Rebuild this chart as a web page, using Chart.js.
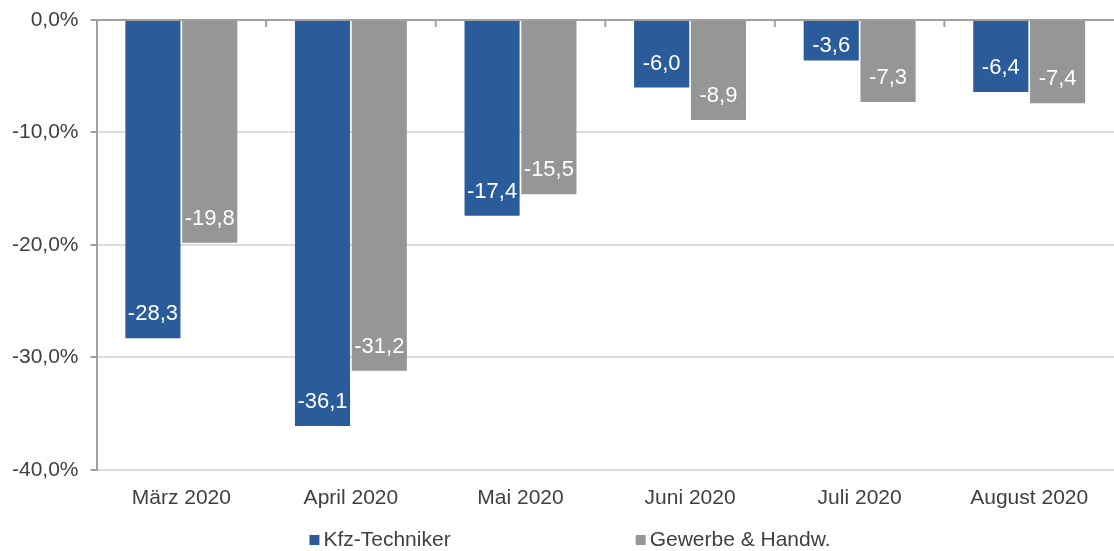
<!DOCTYPE html>
<html lang="de">
<head>
    <meta charset="UTF-8">
    <title>Kfz-Techniker vs. Gewerbe & Handwerk</title>
    <script src="https://cdn.jsdelivr.net/npm/chart.js"></script>
    <style>
        html, body { margin: 0; padding: 0; background: #fff; }
        #wrap { width: 1114px; height: 551px; }
    </style>
</head>
<body>
    <div id="wrap"><canvas id="myChart" width="1114" height="551"></canvas></div>
    <script>
        // data
        const categories = ['März 2020', 'April 2020', 'Mai 2020', 'Juni 2020', 'Juli 2020', 'August 2020'];
        const kfzValues = [-28.3, -36.1, -17.4, -6.0, -3.6, -6.4];
        const gewerbeValues = [-19.8, -31.2, -15.5, -8.9, -7.3, -7.4];
        const seriesNames = ['Kfz-Techniker', 'Gewerbe & Handw.'];
        const yTickValues = [0, -10, -20, -30, -40];
        const yTickLabels = ['0,0%', '-10,0%', '-20,0%', '-30,0%', '-40,0%'];

        const FONT = '"Liberation Sans", Arial, sans-serif';
        const TEXT = '#404040';
        const AXIS = '#a0a0a0';

        const fmt = v => v.toFixed(1).replace('.', ',');

        // value labels inside the bar end
        const barLabels = {
            id: 'barLabels',
            afterDatasetsDraw(chart) {
                const ctx = chart.ctx;
                ctx.save();
                ctx.font = '22px ' + FONT;
                ctx.fillStyle = '#ffffff';
                ctx.textAlign = 'center';
                ctx.textBaseline = 'middle';
                chart.data.datasets.forEach((ds, di) => {
                    chart.getDatasetMeta(di).data.forEach((bar, i) => {
                        const y = Math.max(bar.y - 24, bar.base + 25);
                        ctx.fillText(fmt(ds.data[i]), bar.x, y);
                    });
                });
                ctx.restore();
            }
        };

        // x axis line sits at 0 (top), with small ticks between the groups
        const topAxis = {
            id: 'topAxis',
            afterDatasetsDraw(chart) {
                const ctx = chart.ctx;
                const x = chart.scales.x, y = chart.scales.y;
                const y0 = y.getPixelForValue(0);
                ctx.save();
                ctx.strokeStyle = AXIS;
                ctx.lineWidth = 2;
                ctx.beginPath();
                ctx.moveTo(chart.chartArea.left, y0);
                ctx.lineTo(chart.chartArea.right, y0);
                for (let i = 1; i < categories.length; i++) {
                    const bx = (x.getPixelForValue(i - 1) + x.getPixelForValue(i)) / 2;
                    ctx.moveTo(bx, y0);
                    ctx.lineTo(bx, y0 + 7);
                }
                ctx.stroke();
                ctx.restore();
            }
        };

        // legend drawn by hand so the wide spacing can be kept
        const bottomLegend = {
            id: 'bottomLegend',
            afterDraw(chart) {
                const ctx = chart.ctx;
                ctx.save();
                ctx.font = '21px ' + FONT;
                ctx.textBaseline = 'middle';
                const box = 10, gap = 4, spacing = 185;
                const items = chart.data.datasets.map(ds => ({
                    label: ds.label, color: ds.backgroundColor,
                    w: box + gap + ctx.measureText(ds.label).width
                }));
                const total = items.reduce((s, it) => s + it.w, 0) + spacing * (items.length - 1);
                let x = chart.width / 2 + 13 - total / 2;
                const cy = 540;
                items.forEach(it => {
                    ctx.fillStyle = it.color;
                    ctx.fillRect(x, cy - 5, box, box);
                    ctx.fillStyle = TEXT;
                    ctx.fillText(it.label, x + box + gap, cy);
                    x += it.w + spacing;
                });
                ctx.restore();
            }
        };

        const ctx = document.getElementById('myChart').getContext('2d');
        const myChart = new Chart(ctx, {
            type: 'bar',
            data: {
                labels: categories,
                datasets: [{
                    label: seriesNames[0],
                    data: kfzValues,
                    backgroundColor: '#2a5b9a',
                    categoryPercentage: 0.67,
                    barPercentage: 0.97
                }, {
                    label: seriesNames[1],
                    data: gewerbeValues,
                    backgroundColor: '#969696',
                    categoryPercentage: 0.67,
                    barPercentage: 0.97
                }]
            },
            options: {
                responsive: false,
                animation: false,
                layout: { padding: { top: 20, right: -7, bottom: 32, left: 0 } },
                plugins: {
                    legend: { display: false },
                    tooltip: { enabled: false }
                },
                scales: {
                    x: {
                        grid: { display: false },
                        border: { display: false },
                        ticks: { color: TEXT, font: { family: FONT, size: 21 }, padding: 8 }
                    },
                    y: {
                        min: -40,
                        max: 0,
                        afterBuildTicks: axis => { axis.ticks = yTickValues.map(v => ({ value: v })); },
                        afterFit: axis => { axis.paddingTop = 0; },
                        ticks: {
                            color: TEXT,
                            font: { family: FONT, size: 21 },
                            padding: 12,
                            callback: v => yTickLabels[yTickValues.indexOf(v)]
                        },
                        grid: {
                            color: c => c.tick && c.tick.value === 0 ? AXIS : '#dcdcdc',
                            lineWidth: 2,
                            tickColor: AXIS,
                            tickLength: 6
                        },
                        border: { color: AXIS, width: 2 }
                    }
                }
            },
            plugins: [barLabels, topAxis, bottomLegend]
        });
    </script>
</body>
</html>
